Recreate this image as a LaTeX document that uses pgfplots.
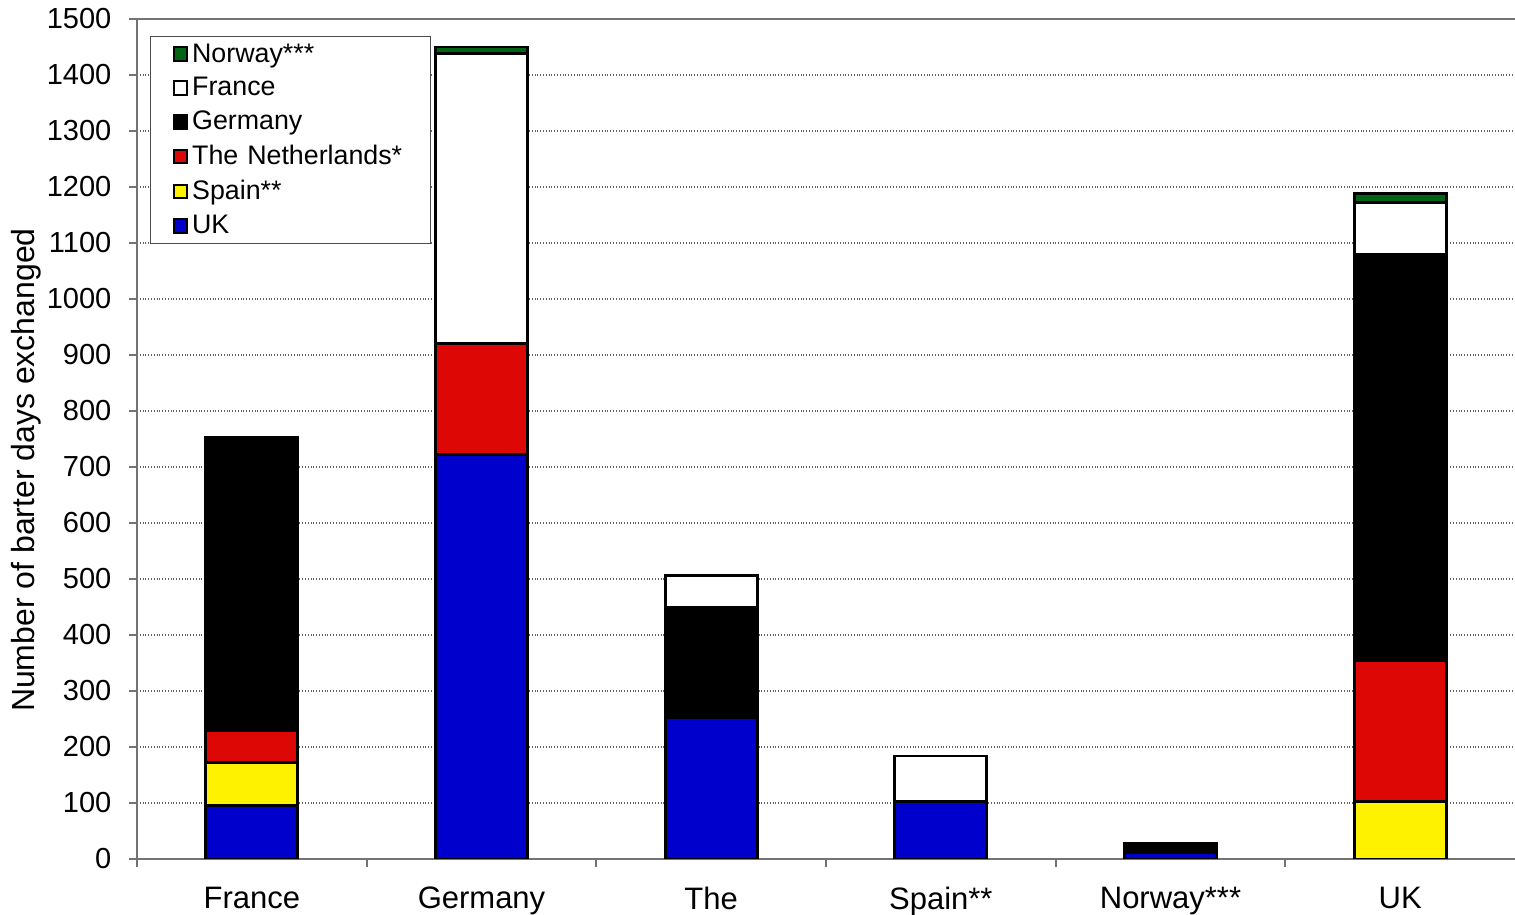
\documentclass[border=0pt]{standalone}
\usepackage{pgfplots}
\pgfplotsset{compat=1.18}
\usepackage{fontspec}
\setmainfont{Liberation Sans}

\definecolor{cUK}{RGB}{0,0,204}
\definecolor{cES}{RGB}{255,242,0}
\definecolor{cNL}{RGB}{221,8,6}
\definecolor{cDE}{RGB}{0,0,0}
\definecolor{cFR}{RGB}{255,255,255}
\definecolor{cNO}{RGB}{0,100,20}

\begin{document}
\begin{tikzpicture}
\begin{axis}[
	ybar stacked,
	bar width=0.4,
	scale only axis,
	width=689pt, height=420pt,
	xmin=-0.5, xmax=5.5,
	ymin=0, ymax=1500,
	ytick distance=100,
	xtick={-0.5,0.5,...,4.5},
	xticklabels={},
	extra x ticks={0,1,2,3,4,5},
	extra x tick labels={France,Germany,The,Spain**,Norway***,UK},
	extra x tick style={major tick length=0pt, grid=none},
	axis x line*=bottom,
	axis y line*=left,
	axis line style={draw=black!55, line width=0.9pt},
	tick style={draw=black!55, line width=0.9pt},
	tick align=outside,
	major tick length=4pt,
	ymajorgrids,
	grid style={densely dotted, black!60, line width=0.6pt},
	/pgf/number format/assume math mode=true,
	/pgf/number format/1000 sep={},
	yticklabel style={font=\fontsize{14.5}{17}\selectfont, xshift=-5.3pt},
	xticklabel style={font=\fontsize{15.5}{18}\selectfont, yshift=-10.5pt},
	ylabel={Number of barter days exchanged},
	ylabel style={font=\fontsize{16}{19}\selectfont,
		at={(axis description cs:-0.0747,0.463)}, anchor=base},
	every axis plot/.append style={draw=black, line width=1.45pt},
	legend image code/.code={\draw[#1, line width=1pt] (0pt,-3.4pt) rectangle (6.8pt,3.4pt);},
	reverse legend,
	legend cell align=left,
	legend style={
		at={(rel axis cs:0.0094,0.9798)}, anchor=north west,
		draw=black!70, line width=0.6pt,
		font=\fontsize{13.4}{16}\selectfont,
		row sep=2.2pt,
		inner xsep=11pt, inner ysep=1.5pt,
		text width=106pt,
	},
]

% UK
\addplot[fill=cUK] coordinates {(0,95) (1,723) (2,252) (3,102) (4,12) (5,0)};
% Spain**
\addplot[fill=cES] coordinates {(0,78) (1,0) (2,0) (3,0) (4,0) (5,102)};
% The Netherlands*
\addplot[fill=cNL] coordinates {(0,56) (1,197) (2,0) (3,0) (4,0) (5,252)};
% Germany
\addplot[fill=cDE] coordinates {(0,523) (1,0) (2,198) (3,0) (4,15) (5,726)};
% France
\addplot[fill=cFR] coordinates {(0,0) (1,519) (2,57) (3,82) (4,0) (5,93)};
% Norway***
\addplot[fill=cNO] coordinates {(0,0) (1,11) (2,0) (3,0) (4,0) (5,16)};

\legend{UK, Spain**, \mbox{The Netherlands*}, Germany, France, Norway***}

\draw[black!55, line width=0.9pt] (rel axis cs:0,1) -- (rel axis cs:1,1);
\coordinate (ll) at (rel axis cs:0,0);
\coordinate (ur) at (rel axis cs:1,1);
\end{axis}
\pgfresetboundingbox
\path[use as bounding box] ([xshift=-68.5pt,yshift=-28pt]ll) rectangle ([yshift=9.5pt]ur);
\end{tikzpicture}
\end{document}
